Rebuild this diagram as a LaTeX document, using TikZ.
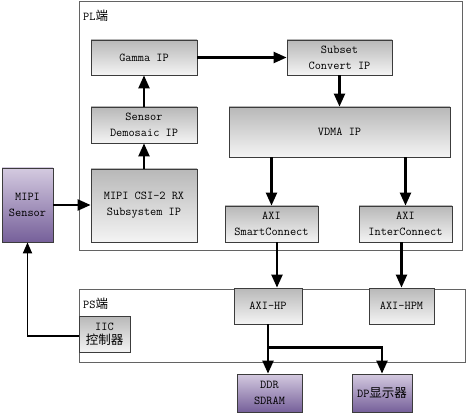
\documentclass[tikz,border=0pt]{standalone}
\usepackage{fontspec}
\newfontfamily\cjk{Noto Sans CJK SC}
\usetikzlibrary{arrows.meta,shadows}
\definecolor{gtop}{HTML}{B8B8B8}
\definecolor{gbot}{HTML}{F4F4F4}
\definecolor{ptop}{HTML}{D4CAE0}
\definecolor{pbot}{HTML}{76609A}
\definecolor{edge}{HTML}{3C3C3C}
\tikzset{
  base/.style={draw=edge, line width=0.8pt, align=center, inner sep=1pt,
    font=\ttfamily\fontsize{12}{16}\selectfont,
    drop shadow={shadow xshift=1pt, shadow yshift=-1pt, fill=black!45, opacity=0.8}},
  gbox/.style={base, top color=gtop, bottom color=gbot},
  pbox/.style={base, top color=ptop, bottom color=pbot},
  frame/.style={draw=edge!80, line width=0.9pt},
  arr/.style={line width=2.2pt, -{Triangle[length=13pt,width=11pt]}},
  lbl/.style={anchor=west, inner sep=0pt, font=\ttfamily\fontsize{12}{14}\selectfont},
}
\newcommand{\zh}[1]{{\cjk\fontsize{12.5}{16}\selectfont #1}}
\begin{document}
\begin{tikzpicture}[x=1pt,y=-1pt]
\useasboundingbox (0,0) rectangle (466,414);
% frames
\draw[frame] (79,1) rectangle (462,250);
\draw[frame] (79,289) rectangle (465,362);
\node[lbl] (pl) at (83,16) {PL\zh{端}};
\node[lbl] (ps) at (83,304) {PS\zh{端}};
% nodes
\node[gbox, minimum width=106, minimum height=35] (gamma) at (144,57.5) {Gamma IP};
\node[gbox, minimum width=106, minimum height=36] (demo) at (144,125) {Sensor\\Demosaic IP};
\node[gbox, minimum width=106, minimum height=73] (csi) at (144,205.5) {MIPI CSI-2 RX\\Subsystem IP};
\node[pbox, minimum width=51, minimum height=74] (sensor) at (27.5,205) {MIPI\\Sensor};
\node[gbox, minimum width=105, minimum height=35] (subset) at (339.5,57.5) {Subset\\Convert IP};
\node[gbox, minimum width=221, minimum height=50] (vdma) at (339.5,132) {VDMA IP};
\node[gbox, minimum width=93, minimum height=36] (smart) at (271.5,224) {AXI\\SmartConnect};
\node[gbox, minimum width=93, minimum height=36] (inter) at (405.5,224) {AXI\\InterConnect};
\node[gbox, minimum width=68, minimum height=36] (hp) at (268,306) {AXI-HP};
\node[gbox, minimum width=65, minimum height=36] (hpm) at (401.5,306) {AXI-HPM};
\node[pbox, minimum width=65, minimum height=38] (ddr) at (269.5,393) {DDR\\SDRAM};
\node[pbox, minimum width=60, minimum height=38] (dp) at (382,393) {DP\zh{显示器}};
\node[gbox, minimum width=51, minimum height=36, inner sep=0pt] (iic) at (104.5,334) {IIC\\[-2pt]\zh{控制器}};
% connectors
\draw[arr] (gamma.east) -- (subset.west);
\draw[arr] (subset.south) -- (subset.south |- vdma.north);
\draw[arr] (demo.north) -- (gamma.south);
\draw[arr] (csi.north) -- (demo.south);
\draw[arr] (sensor.east) -- (sensor.east -| csi.west);
\draw[arr] (smart.north |- vdma.south) -- (smart.north);
\draw[arr] (inter.north |- vdma.south) -- (inter.north);
\draw[arr] ([xshift=5.5pt]smart.south) -- ([xshift=5.5pt]smart.south |- hp.north);
\draw[arr] (hpm.north |- inter.south) -- (hpm.north);
\coordinate (j) at ([yshift=-23pt]hp.south);
\draw[arr] (hp.south) -- (hp.south |- ddr.north);
\draw[arr] (j) -| (dp.north);
\draw[line width=1.8pt, -{Triangle[length=11pt,width=9pt]}] ([yshift=-2pt]iic.west) -| (sensor.south);
\end{tikzpicture}
\end{document}
